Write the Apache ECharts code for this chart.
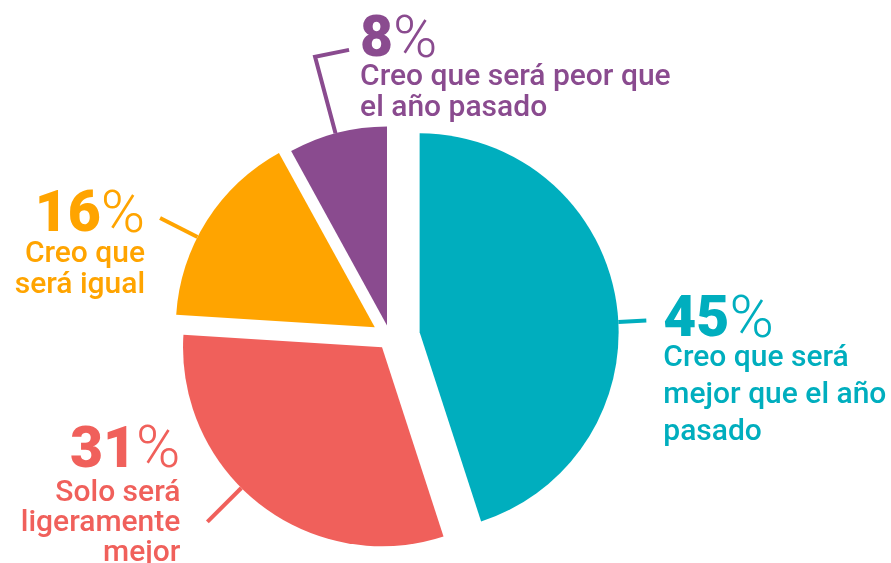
<!DOCTYPE html>
<html>
<head>
<meta charset="utf-8">
<script src="https://cdn.jsdelivr.net/npm/echarts@6/dist/echarts.min.js"></script>
<style>
  html, body { margin: 0; padding: 0; background: #fff; }
  #chart { width: 891px; height: 563px; }
</style>
</head>
<body>
<div id="chart"></div>
<script>
const categories = [
  'Creo que será mejor que el año pasado',
  'Solo será ligeramente mejor',
  'Creo que será igual',
  'Creo que será peor que el año pasado'
];
const values = [45, 31, 16, 8];
// label text, already wrapped like in the original
const descLines = [
  ['Creo que será', 'mejor que el año', 'pasado'],
  ['Solo será', 'ligeramente', 'mejor'],
  ['Creo que', 'será igual'],
  ['Creo que será peor que', 'el año pasado']
];
const colors = ['#00aebe', '#f0605b', '#ffa400', '#8a4b8f'];

// layout
const CX = 390, CY = 337, R = 199;
const explode = [30, 13, 18, 12];
// label line: angle on the rim (deg, clockwise from top), length, optional elbow
const lineAngle = [87, 225, 297, 345];
const lineLen = [28, 48, 42, 79];
const elbow = [null, null, null, [34, -7]];
// text position from the line end (x gap, offset of the number line's middle)
const textShift = [[17, 1.5], [-27, -69.5], [-15, -1], [11, -8]];
const numLineHeight = [36, 52, 44, 41];
const descLineHeight = [37, 30, 31, 31];

const total = values.reduce((a, b) => a + b, 0);
const dir = deg => [Math.sin(deg * Math.PI / 180), -Math.cos(deg * Math.PI / 180)];

let acc = 0;
const sliceCenters = values.map((v, i) => {
  const mid = (acc + v / 2) / total * 360;
  acc += v;
  const d = dir(mid);
  return [CX + d[0] * explode[i], CY + d[1] * explode[i]];
});

function linePoints(i) {
  const c = sliceCenters[i];
  const d = dir(lineAngle[i]);
  const p0 = [c[0] + d[0] * R, c[1] + d[1] * R];
  const p1 = [p0[0] + d[0] * lineLen[i], p0[1] + d[1] * lineLen[i]];
  const p2 = elbow[i] ? [p1[0] + elbow[i][0], p1[1] + elbow[i][1]] : p1;
  return [p0, p1, p2];
}

function labelFor(j) {
  const side = textShift[j][0] > 0 ? 'left' : 'right';
  const font = { fontFamily: 'Roboto', color: colors[j], align: side };
  return {
    show: true,
    position: 'outside',
    formatter: '{n|' + values[j] + '}{p|%}\n' +
      descLines[j].map(s => '{d|' + s + '}').join('\n'),
    rich: {
      n: Object.assign({ fontSize: 57, fontWeight: 900, lineHeight: numLineHeight[j] }, font),
      p: Object.assign({ fontSize: 60, fontWeight: 300, lineHeight: numLineHeight[j] }, font),
      d: Object.assign({ fontSize: 30, fontWeight: 500, lineHeight: descLineHeight[j] }, font)
    }
  };
}

// one pie per slice so every slice can be pulled out by its own amount
const series = values.map((v, i) => ({
  type: 'pie',
  silent: true,
  animation: false,
  center: sliceCenters[i],
  radius: R,
  startAngle: 90,
  clockwise: true,
  avoidLabelOverlap: false,
  emphasis: { disabled: true },
  itemStyle: { borderWidth: 0 },
  label: { show: false },
  labelLine: { show: false },
  data: values.map((val, j) => ({
    name: categories[j],
    value: val,
    itemStyle: { color: j === i ? colors[j] : 'transparent', borderWidth: 0 },
    label: j === i ? labelFor(j) : { show: false },
    labelLine: j === i
      ? { show: true, smooth: false, lineStyle: { color: colors[j], width: 4, cap: 'butt' } }
      : { show: false }
  })),
  labelLayout: function (params) {
    const j = params.dataIndex;
    const pts = linePoints(j);
    const end = pts[2];
    return {
      x: end[0] + textShift[j][0],
      y: end[1] + textShift[j][1] - numLineHeight[j] / 2,
      align: textShift[j][0] > 0 ? 'left' : 'right',
      verticalAlign: 'top',
      labelLinePoints: pts
    };
  }
}));

const chart = echarts.init(document.getElementById('chart'));
chart.setOption({
  backgroundColor: '#fff',
  animation: false,
  series: series
});
window.addEventListener('resize', () => {
  chart.resize();
});
</script>
</body>
</html>
